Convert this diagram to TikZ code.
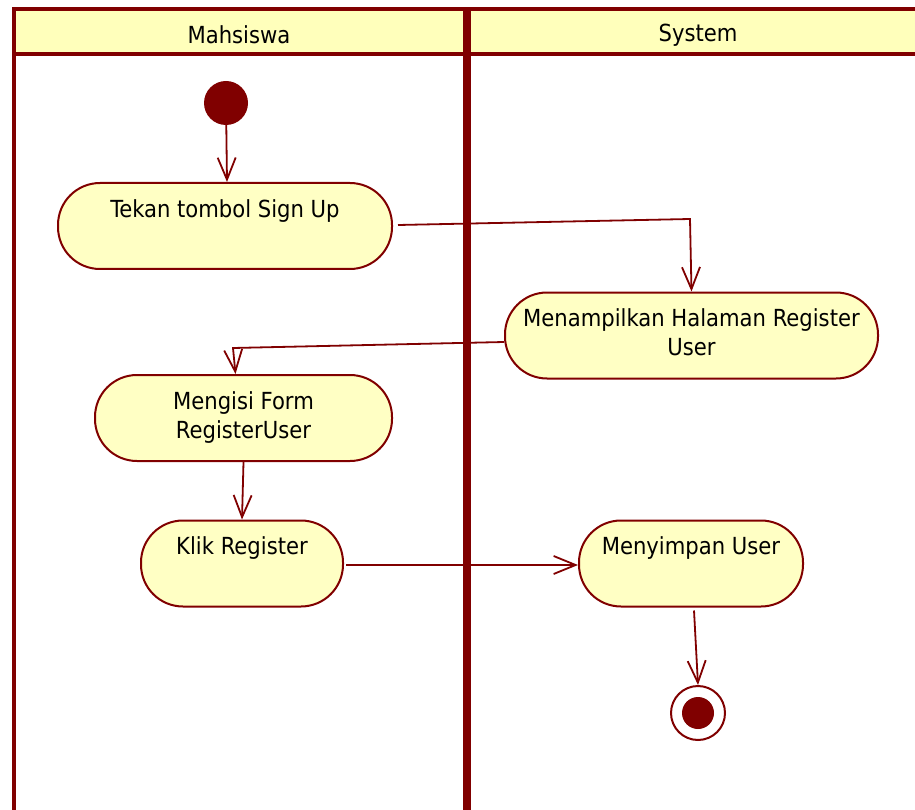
\documentclass[tikz,border=0pt]{standalone}
\usepackage{fontspec}
\setmainfont{DejaVu Sans Condensed}
\usetikzlibrary{arrows.meta,calc}
\definecolor{lanered}{HTML}{800000}
\definecolor{laneyellow}{HTML}{FFFFBB}
\definecolor{actfill}{HTML}{FFFFC4}
\begin{document}
\begin{tikzpicture}[x=1pt,y=-1pt,
  txt/.style={font=\fontsize{23.5}{29}\selectfont, text=black},
  activity/.style={txt, draw=lanered, line width=2pt, fill=actfill,
    rounded corners=42pt, inner sep=0pt, align=center, minimum height=86pt},
  lanehead/.style={txt, inner sep=0pt},
  flow/.style={draw=lanered, line width=1.8pt,
    -{Straight Barb[length=22pt,width=18pt,line width=1.8pt]}},
  border/.style={draw=lanered, line width=4pt},
]
\path[use as bounding box] (0,0) rectangle (915,810);
\clip (0,0) rectangle (915,810);

% swimlane frame
\fill[laneyellow] (15,11) rectangle (920,53);
\draw[border] (13.5,830) -- (13.5,9.5) -- (930,9.5);
\draw[border] (13.5,54) -- (930,54);
\draw[lanered, line width=8pt] (467,9.5) -- (467,830);

\node[lanehead] (laneA) at (239,35) {Mahsiswa};
\node[lanehead] (laneB) at (698,35) {System};

% activities
\node[circle, fill=lanered, minimum size=44pt, inner sep=0pt] (start) at (226,103) {};
\node[activity, minimum width=334pt] (tekan) at (225,226)
  {\strut Tekan tombol Sign Up\\\strut};
\node[activity, minimum width=373pt] (menampil) at (691.5,335.5)
  {\strut Menampilkan Halaman Register\\\strut User};
\node[activity, minimum width=297pt] (mengisi) at (243.5,418)
  {\strut Mengisi Form\\\strut RegisterUser};
\node[activity, minimum width=202pt] (klik) at (242,563.5)
  {\strut Klik Register\\\strut};
\node[activity, minimum width=224pt] (menyimpan) at (691,563.5)
  {\strut Menyimpan User\\\strut};
\node[circle, draw=lanered, line width=2pt, fill=white, minimum size=54pt, inner sep=0pt]
  (finish) at (698,713) {};
\node[circle, fill=lanered, minimum size=32pt, inner sep=0pt] (finishdot) at (finish.center) {};

% control flow
\coordinate (b1) at (690,219);
\coordinate (b2) at (233,348);
\draw[flow] (start) -- ($(tekan.north)+(2,0)$);
\draw[flow] ($(tekan.east)+(5,-1)$) -- (b1) -- (menampil.north);
\draw[flow] ($(menampil.west)+(0,6.5)$) -- (b2) -- ($(mengisi.north)+(-8,0)$);
\draw[flow] (mengisi.south) -- (klik.north);
\draw[flow] ($(klik.east)+(2,1.5)$) -- ($(menyimpan.west)+(0,1.5)$);
\draw[flow] ($(menyimpan.south)+(3,3)$) -- (finish.north);
\end{tikzpicture}
\end{document}
